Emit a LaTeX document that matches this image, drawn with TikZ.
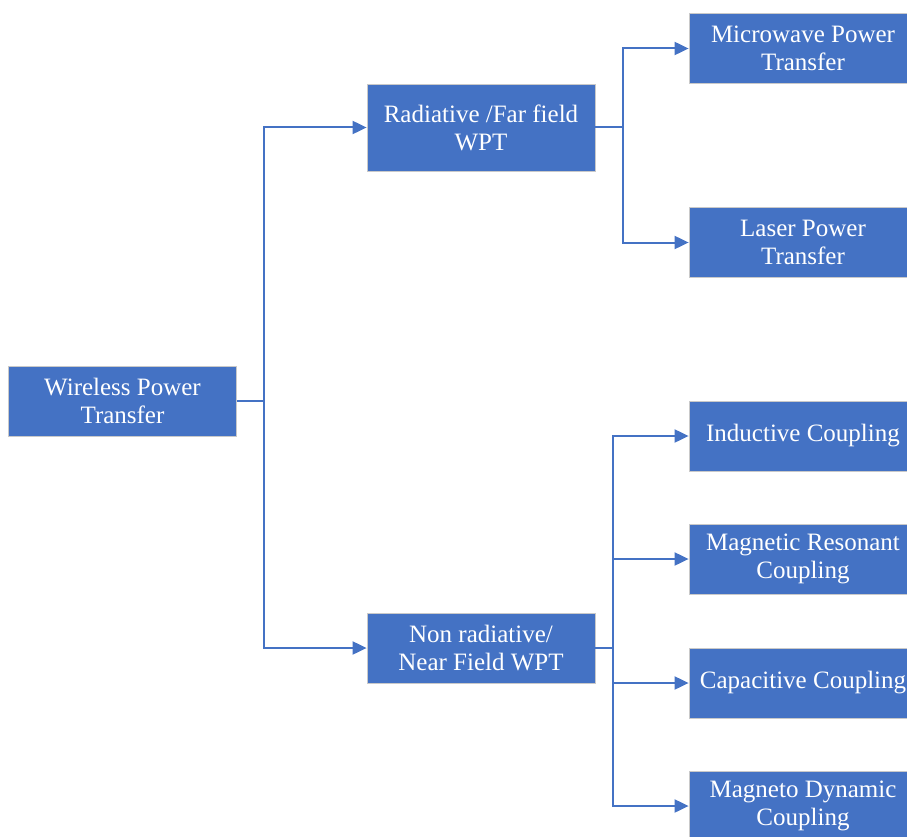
\documentclass[tikz,border=0pt]{standalone}
\usepackage{fontspec}
\newfontfamily\tnr{Liberation Serif}
\usetikzlibrary{arrows.meta}
\definecolor{boxblue}{HTML}{4472C4}
\definecolor{edgegray}{HTML}{C9C9C9}
\tikzset{
  box/.style={rectangle, fill=boxblue, draw=edgegray, line width=0.8pt,
    minimum width=228pt, minimum height=70pt, inner sep=2pt, align=center,
    text=white, font=\tnr\fontsize{25}{28}\selectfont},
  conn/.style={draw=boxblue, line width=2pt},
  arr/.style={conn, -{Triangle[length=14pt,width=13pt]}}
}
\begin{document}
\begin{tikzpicture}[x=1pt,y=-1pt]
\useasboundingbox (0,0) rectangle (907,837);
\clip (0,0) rectangle (907,837);
\node[box] (wpt) at (122.5,401) {Wireless Power\\Transfer};
\node[box, minimum height=87pt] (rad) at (481,127.5) {Radiative /Far field\\WPT};
\node[box] (near) at (481,648) {Non radiative/\\Near Field WPT};
\node[box] (mw) at (803,48.5) {Microwave Power\\Transfer};
\node[box] (laser) at (803,242.5) {Laser Power\\Transfer};
\node[box] (ind) at (803,436) {Inductive Coupling};
\node[box] (mr) at (803,559) {Magnetic Resonant\\Coupling};
\node[box] (cap) at (803,683) {Capacitive Coupling};
\node[box] (md) at (803,806) {Magneto Dynamic\\Coupling};
\coordinate (j1) at (264,401);
\coordinate (j2) at (623,127.5);
\coordinate (j3) at (613,648);
\draw[conn] (wpt.east) -- (j1);
\draw[arr] (j1) |- (rad.west);
\draw[arr] (j1) |- (near.west);
\draw[conn] (rad.east) -- (j2);
\draw[arr] (j2) |- (mw.west);
\draw[arr] (j2) |- (laser.west);
\draw[conn] (near.east) -- (j3);
\draw[arr] (j3) |- (ind.west);
\draw[arr] (j3) |- (mr.west);
\draw[arr] (j3) |- (cap.west);
\draw[arr] (j3) |- (md.west);
\end{tikzpicture}
\end{document}
